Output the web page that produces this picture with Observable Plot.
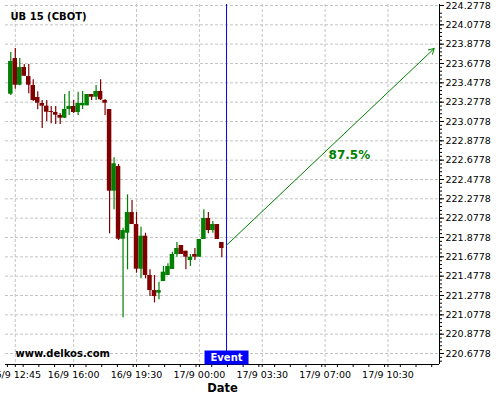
<!DOCTYPE html>
<html>
<head>
<meta charset="utf-8">
<script src="https://cdn.jsdelivr.net/npm/d3@7"></script>
<script src="https://cdn.jsdelivr.net/npm/@observablehq/plot@0.6"></script>
<style>
  html, body { margin: 0; padding: 0; background: #fff; }
  #chart svg { display: block; }
</style>
</head>
<body>
<div id="chart"></div>
<script>
// ---- Data (15-minute candles, bar index 0 = 16/9 12:30) ----
const opens  = [223.360,223.729,223.453,223.636,223.543,223.450,223.326,223.264,223.236,223.181,
                223.171,223.140,223.112,223.202,223.233,223.171,223.240,223.240,223.357,223.329,
                223.388,223.295,223.202,222.357,222.612,221.860,221.922,222.136,222.012,221.550,
                221.891,221.485,221.329,221.302,221.422,221.485,221.547,221.702,221.795,221.736,
                221.640,221.702,221.674,221.857,222.074,221.950,222.012,221.826];
const highs  = [223.792,223.833,223.729,223.667,223.667,223.509,223.385,223.295,223.295,223.233,
                223.233,223.161,223.357,223.388,223.295,223.381,223.388,223.357,223.357,223.450,
                223.509,223.305,223.202,222.702,222.633,221.974,222.319,222.260,222.136,221.984,
                221.922,221.543,221.485,221.415,221.578,221.606,221.726,221.826,221.795,221.736,
                221.702,221.764,221.857,222.164,222.136,222.043,222.012,221.826];
const lows   = [223.347,223.412,223.447,223.543,223.364,223.285,223.199,223.005,223.078,223.054,
                223.047,223.047,223.109,223.140,223.161,223.140,223.202,223.240,223.295,223.295,
                223.295,223.140,221.916,222.164,221.847,221.047,221.544,222.012,221.508,221.450,
                221.450,221.267,221.202,221.233,221.422,221.485,221.547,221.674,221.702,221.543,
                221.578,221.640,221.674,221.857,221.916,221.922,221.857,221.667];
const closes = [223.698,223.453,223.636,223.546,223.453,223.295,223.267,223.236,223.174,223.171,
                223.143,223.112,223.202,223.233,223.171,223.264,223.264,223.357,223.329,223.388,
                223.302,223.267,222.357,222.640,221.860,221.950,222.136,222.012,221.550,221.891,
                221.485,221.329,221.267,221.329,221.519,221.578,221.702,221.764,221.702,221.674,
                221.674,221.674,221.857,222.074,221.950,222.012,221.857,221.764];

// x axis ticks (bar index) and their labels
const xTickBars   = [1, 14, 28, 42, 56, 70, 84];
const xTickLabels = ["16/9 12:45","16/9 16:00","16/9 19:30","17/9 00:00","17/9 03:30","17/9 07:00","17/9 10:30"];

// y axis tick values
const yTicks = [220.6778,220.8778,221.0778,221.2778,221.4778,221.6778,221.8778,222.0778,222.2778,
                222.4778,222.6778,222.8778,223.0778,223.2778,223.4778,223.6778,223.8778,224.0778,224.2778];

// Event and forecast
const eventBar = 48.05;
const eventLabel = "Event";
const forecastStart = {bar: 48.1, price: 221.800};
const forecastEnd   = {bar: 94.3, price: 223.833};
const forecastLabel = {bar: 75.4, price: 222.726, text: "87.5%"};

const title = "UB 15 (CBOT)";
const watermark = "www.delkos.com";
const xTitle = "Date";

// ---- Build ----
const candles = opens.map((o, i) => ({
  i, open: o, high: highs[i], low: lows[i], close: closes[i],
  dir: closes[i] >= o ? "up" : "down"
}));

const xDomain = [-1.18, 95.48];
const yDomain = [220.564, 224.288];

const minorY = d3.range(0, 91).map(k => +(220.5978 + 0.04 * k).toFixed(4))
  .filter(v => v >= yDomain[0] && v <= yDomain[1]);
const minorX = d3.range(-0.75, 95.4, 3.5);

const GREEN = "#008000";
const RED = "#800000";
const GRID = "#c4c4c4";

const boxSymbol = { draw(ctx) { ctx.rect(-22, -7, 44, 14); } };

const chart = Plot.plot({
  width: 500,
  height: 400,
  marginLeft: 5,
  marginRight: 61,
  marginTop: 4,
  marginBottom: 36,
  style: { fontFamily: "DejaVu Sans", fontSize: "9.5px", background: "#fff", color: "#000" },
  x: { domain: xDomain, axis: null },
  y: { domain: yDomain, axis: null },
  color: { domain: ["up", "down"], range: [GREEN, RED] },
  marks: [
    Plot.gridY(yTicks, { stroke: GRID, strokeOpacity: 1, strokeDasharray: "3,2" }),
    Plot.gridX(xTickBars, { stroke: GRID, strokeOpacity: 1, strokeDasharray: "3,2" }),
    // wicks
    Plot.ruleX(candles, { x: "i", y1: "low", y2: "high", stroke: "dir", strokeWidth: 1.2 }),
    // bodies
    Plot.rect(candles, { x1: d => d.i - 0.5, x2: d => d.i + 0.5, y1: "open", y2: "close", fill: "dir" }),
    // axes lines
    Plot.ruleY([yDomain[0]], { stroke: "#000", strokeWidth: 1 }),
    Plot.ruleX([xDomain[1]], { stroke: "#000", strokeWidth: 1 }),
    // y axis (right)
    Plot.axisY(minorY, { anchor: "right", tickSize: 2, tickFormat: () => "", label: null, stroke: "#000" }),
    Plot.axisY(yTicks, { anchor: "right", tickSize: 4, tickPadding: 2, label: null,
      tickFormat: d => d.toFixed(4), fontSize: 9.5, fill: "#000", stroke: "#000" }),
    // x axis (bottom)
    Plot.axisX(minorX, { anchor: "bottom", tickSize: 3, tickFormat: () => "", label: null, stroke: "#000" }),
    Plot.axisX(xTickBars, { anchor: "bottom", tickSize: 3, tickPadding: 4, label: null,
      tickFormat: d => xTickLabels[xTickBars.indexOf(d)], fontSize: 9.5, fill: "#000", stroke: "#000" }),
    Plot.text([xTitle], { frameAnchor: "bottom", dy: 27, fontWeight: "bold", fontSize: 11.5, fill: "#000" }),
    // event line + label
    Plot.ruleX([eventBar], { stroke: "#0000ff", strokeWidth: 1 }),
    Plot.dot([eventBar], { x: d => d, frameAnchor: "bottom", dy: -7, symbol: boxSymbol, fill: "#0000ff", stroke: "none" }),
    Plot.text([eventLabel], { x: () => eventBar, frameAnchor: "bottom", dy: -7, lineAnchor: "middle",
      fill: "#fff", fontWeight: "bold", fontSize: 10 }),
    // forecast arrow
    Plot.arrow([{ s: forecastStart, e: forecastEnd }], {
      x1: d => d.s.bar, y1: d => d.s.price, x2: d => d.e.bar, y2: d => d.e.price,
      stroke: GREEN, strokeWidth: 1, headLength: 9
    }),
    Plot.text([forecastLabel], { x: "bar", y: "price", text: "text", fill: GREEN, fontWeight: "bold", fontSize: 12 }),
    // title and watermark
    Plot.text([title], { frameAnchor: "top-left", dx: 5, dy: 12, textAnchor: "start", lineAnchor: "middle",
      fontWeight: "bold", fontSize: 10, fill: "#000" }),
    Plot.text([watermark], { frameAnchor: "bottom-left", dx: 10, dy: -11, textAnchor: "start", lineAnchor: "middle",
      fontWeight: "bold", fontSize: 10, fill: "#000" })
  ]
});

document.getElementById("chart").appendChild(chart);
</script>
</body>
</html>
